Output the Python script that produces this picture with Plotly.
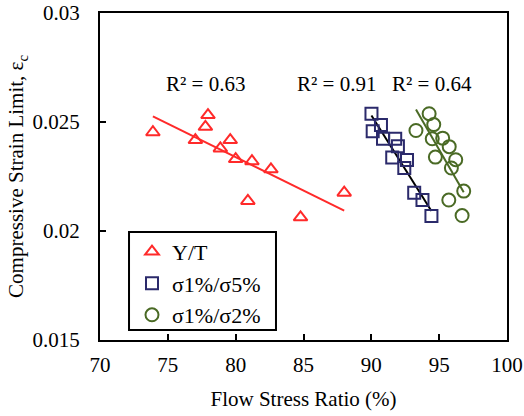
import numpy as np
import plotly.graph_objects as go

# ---- data ----
yt_x = [73.9, 77.96, 77.77, 77.03, 79.6, 78.87, 80.0, 81.2, 80.9, 82.6, 88.0, 84.78]
yt_y = [0.02453, 0.02532, 0.02478, 0.02417, 0.02417, 0.02379, 0.0233, 0.0232, 0.02138, 0.02283, 0.02176, 0.02063]

s15_x = [90.01, 90.71, 90.1, 90.86, 91.76, 91.96, 91.54, 92.63, 92.43, 93.16, 93.77, 94.43]
s15_y = [0.02538, 0.02486, 0.02458, 0.02423, 0.02423, 0.02389, 0.02337, 0.02326, 0.02289, 0.02176, 0.02142, 0.02069]

s12_x = [94.26, 93.29, 94.6, 94.49, 95.26, 95.74, 94.72, 96.22, 95.9, 96.81, 95.71, 96.69]
s12_y = [0.02538, 0.02461, 0.02488, 0.02423, 0.02426, 0.02387, 0.02339, 0.02327, 0.02289, 0.02183, 0.02142, 0.02071]

r2_labels = ["R² = 0.63", "R² = 0.91", "R² = 0.64"]
r2_x = [77.8, 87.4, 94.5]
r2_y = [0.02674, 0.02674, 0.02674]

x_ticks = [70, 75, 80, 85, 90, 95, 100]
y_ticks = [0.015, 0.02, 0.025, 0.03]
y_ticktext = ["0.015", "0.02", "0.025", "0.03"]

FONT = "Liberation Serif"
RED = "#ff2a2a"
NAVY = "#2b2a6b"
OLIVE = "#4a6a25"


def fit_line(xs, ys):
    xs = np.asarray(xs)
    ys = np.asarray(ys)
    m, b = np.polyfit(xs, ys, 1)
    lx = np.array([xs.min(), xs.max()])
    return lx, m * lx + b


fig = go.Figure()

series = [
    ("Y/T", yt_x, yt_y, "triangle-up-open", RED, RED, 12),
    ("σ1%/σ5%", s15_x, s15_y, "square-open", NAVY, "black", 12),
    ("σ1%/σ2%", s12_x, s12_y, "circle-open", OLIVE, OLIVE, 13),
]

for name, xs, ys, sym, col, lcol, size in series:
    lx, ly = fit_line(xs, ys)
    fig.add_trace(go.Scatter(x=lx, y=ly, mode="lines", line=dict(color=lcol, width=2),
                             showlegend=False, hoverinfo="skip"))

for name, xs, ys, sym, col, lcol, size in series:
    fig.add_trace(go.Scatter(x=xs, y=ys, mode="markers", name=name,
                             marker=dict(symbol=sym, size=size, color=col,
                                         line=dict(color=col, width=2))))

for t, x, y in zip(r2_labels, r2_x, r2_y):
    fig.add_annotation(x=x, y=y, text=t, showarrow=False,
                       font=dict(family=FONT, size=21, color="black"))

axis_common = dict(showline=True, linecolor="black", linewidth=2, mirror=True,
                   ticks="inside", ticklen=6, tickwidth=2, tickcolor="black",
                   showgrid=False, zeroline=False, automargin=False,
                   tickfont=dict(family=FONT, size=21, color="black"))

fig.update_xaxes(range=[70, 100], tickvals=x_ticks, ticklabelstandoff=5,
                 title=dict(text="Flow Stress Ratio (%)", font=dict(family=FONT, size=21, color="black"), standoff=15),
                 **axis_common)
fig.update_yaxes(range=[0.015, 0.03], tickvals=y_ticks, ticktext=y_ticktext, ticklabelstandoff=14,
                 title=dict(text="Compressive Strain Limit, ε<sub>c</sub>", font=dict(family=FONT, size=21, color="black"), standoff=3),
                 **axis_common)

# legend frame (paper coordinates of the plot area)
fig.add_shape(type="rect", xref="paper", yref="paper",
              x0=0.0713, x1=0.4324, y0=0.0306, y1=0.3303,
              line=dict(color="black", width=2), fillcolor="white", layer="below")

fig.update_layout(
    width=524, height=416,
    margin=dict(l=100, r=17, t=13, b=76),
    plot_bgcolor="white", paper_bgcolor="white",
    font=dict(family=FONT, color="black"),
    legend=dict(x=0.0786, y=0.334, xanchor="left", yanchor="top",
                bgcolor="rgba(0,0,0,0)", borderwidth=0,
                font=dict(family=FONT, size=22, color="black"),
                itemwidth=30, tracegroupgap=6),
)

fig.write_html("out.html", config={"displayModeBar": False},
               post_script="document.body.style.margin='0';document.body.style.overflow='hidden';")
